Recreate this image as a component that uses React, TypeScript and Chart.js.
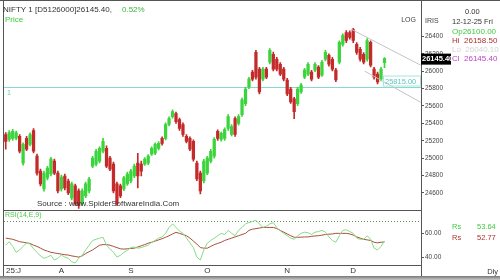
import { useEffect, useRef } from 'react';
import { Chart, registerables } from 'chart.js';

Chart.register(...registerables);

const FONT = '"Liberation Sans", Arial, sans-serif';

const opens = [25272, 25215, 25227, 25230, 25250, 24942, 25227, 25159, 25318, 25022, 24851, 24646, 24772, 24817, 24965, 24828, 24646, 24794, 24737, 24543, 24680, 24623, 24475, 24566, 24623, 24908, 24931, 24965, 25079, 25113, 25000, 24931, 24703, 24680, 24646, 24703, 24737, 24794, 24942, 24931, 24931, 24942, 25045, 25056, 25113, 25227, 25227, 25387, 25478, 25512, 25444, 25387, 25250, 25227, 25193, 24942, 24828, 24737, 24828, 24965, 25022, 25307, 25215, 25227, 25341, 25272, 25455, 25398, 25500, 25626, 25819, 25990, 26218, 26024, 25910, 26024, 26104, 26195, 26138, 26081, 26024, 25899, 25796, 25682, 25626, 25762, 25933, 25967, 25990, 26013, 26047, 25956, 26138, 26184, 26138, 26013, 26104, 26309, 26446, 26446, 26480, 26309, 26252, 26195, 26138, 26332, 26024, 25967, 25910, 26100];
const highs = [25295, 25318, 25330, 25310, 25270, 25175, 25250, 25290, 25340, 25045, 24875, 24850, 24905, 25010, 24990, 24850, 24805, 24815, 24760, 24725, 24700, 24645, 24645, 24725, 24780, 25020, 25100, 25130, 25227, 25140, 25020, 24955, 24725, 24700, 24790, 24840, 24870, 24930, 25056, 24965, 25005, 25040, 25130, 25175, 25190, 25245, 25405, 25475, 25557, 25530, 25460, 25405, 25270, 25245, 25210, 24965, 24850, 24985, 25020, 25100, 25235, 25325, 25300, 25350, 25500, 25385, 25475, 25500, 25690, 25815, 25930, 26010, 26240, 26045, 26045, 26045, 26260, 26220, 26160, 26100, 26045, 25920, 25815, 25700, 25815, 25860, 26035, 26100, 26010, 26100, 26065, 26125, 26240, 26200, 26160, 26035, 26350, 26430, 26468, 26465, 26495, 26330, 26275, 26215, 26375, 26350, 26045, 25990, 26045, 26158.5];
const lows = [25102, 25193, 25205, 25210, 25060, 24920, 25085, 25140, 25060, 24805, 24680, 24620, 24750, 24795, 24810, 24600, 24620, 24635, 24580, 24520, 24455, 24420, 24455, 24545, 24600, 24890, 24910, 24945, 25060, 24890, 24855, 24600, 24455, 24545, 24625, 24685, 24715, 24775, 24657, 24794, 24915, 24925, 25030, 25040, 25095, 25150, 25210, 25370, 25460, 25400, 25320, 25250, 25175, 25085, 24965, 24740, 24589, 24715, 24810, 24945, 25000, 25205, 25195, 25205, 25320, 25255, 25250, 25380, 25480, 25605, 25800, 25890, 25910, 25740, 25890, 25915, 26085, 26005, 26005, 25950, 25890, 25720, 25630, 25455, 25605, 25745, 25915, 25950, 25890, 25995, 25915, 25940, 26120, 26060, 26005, 25880, 26085, 26290, 26330, 26370, 26330, 26195, 26115, 26085, 26115, 26050, 25910, 25855, 25890, 26040.1];
const closes = [25193, 25295, 25307, 25290, 25079, 25159, 25102, 25272, 25079, 24828, 24703, 24828, 24885, 24988, 24828, 24623, 24783, 24657, 24600, 24703, 24475, 24452, 24623, 24703, 24760, 25000, 25079, 25113, 25193, 24908, 24874, 24623, 24475, 24566, 24772, 24817, 24851, 24908, 24794, 24851, 24988, 25022, 25113, 25159, 25170, 25170, 25387, 25455, 25535, 25421, 25341, 25272, 25193, 25102, 24988, 24760, 24623, 24965, 25000, 25079, 25215, 25227, 25284, 25329, 25478, 25364, 25272, 25478, 25671, 25796, 25910, 25910, 25933, 25762, 26024, 25933, 26241, 26024, 26024, 25967, 25910, 25739, 25648, 25535, 25796, 25842, 26013, 26081, 25910, 26081, 25933, 26104, 26218, 26081, 26024, 25899, 26332, 26411, 26354, 26389, 26354, 26218, 26138, 26104, 26354, 26070, 25933, 25876, 26024, 26145.4];

const rsi = [50, 53, 49, 44, 46, 49, 52, 51, 47, 44, 41, 39, 40, 41.5, 37.5, 39, 41.7, 40, 39, 36, 35, 39, 41.5, 46, 50, 54, 55, 56, 56.7, 50, 47, 44, 40, 41.5, 44, 45.8, 48, 48.5, 47.5, 48, 49, 50, 52.5, 54, 56, 57, 60, 65, 68, 65, 62, 60, 56, 52, 48, 40, 37.5, 46, 51.7, 54, 56, 58, 60, 59, 62.5, 60, 58, 62.5, 65, 68, 69, 70, 71, 68, 65, 66, 68, 69, 65, 62, 60, 58, 56, 55, 58, 60, 61, 60.5, 59, 61, 61.5, 62.5, 61, 57, 54, 52.5, 58, 62.5, 63, 61.5, 60, 56, 55, 55, 58, 55, 47.5, 46, 49, 53.64];
const rsiSignal = [56, 55.5, 55, 54, 53, 52.5, 52, 51.5, 50, 49, 47.5, 46, 45, 44, 43.5, 43, 42.5, 42, 41.7, 41, 40.5, 40, 41, 43, 44.5, 46, 48, 50, 50.5, 50.5, 50, 49, 48, 47, 46.7, 47, 47.3, 47.5, 48.5, 49.5, 50.5, 51.7, 52.5, 53.5, 54.5, 55.5, 56.7, 58, 59.5, 60.8, 60, 59, 58, 56, 53.5, 51, 48, 47.5, 47.5, 49, 50.5, 51.5, 52.5, 54, 55, 56, 57, 58, 59, 60, 62.5, 63.5, 64, 64.5, 65, 65, 65, 65, 64, 62.5, 61, 59.5, 58, 56.7, 56.7, 56.8, 57, 57, 57.5, 57.8, 58, 58.5, 59, 59.3, 59.5, 60, 60, 60, 60, 59.5, 58.5, 57, 56, 55, 54.5, 54, 52.5, 52, 52.5, 52.77];

const monthLabels = ['25:J', 'A', 'S', 'O', 'N', 'D'];
const monthIndex = [0, 16, 36, 58, 81, 100];
const priceTicks = [24600, 24800, 25000, 25200, 25400, 25600, 25800, 26000, 26200, 26400];
const rsiTicks = [40, 60];
const supportLevel = 25815;
const rsiUpper = 70;
const upperTrend = [{ x: 99.6, y: 26480 }, { x: 119.4, y: 26070 }];
const lowerTrend = [{ x: 103.3, y: 26001 }, { x: 119.4, y: 25643 }];

const GREEN = '#3cd43c';
const RED = '#c42a2a';

function txt(ctx: CanvasRenderingContext2D, s: string, x: number, y: number, color: string, size: number, align: CanvasTextAlign = 'left', bold = false) {
  ctx.font = `${bold ? 'bold ' : ''}${size}px ${FONT}`;
  ctx.fillStyle = color;
  ctx.textAlign = align;
  ctx.textBaseline = 'middle';
  ctx.fillText(s, x, y);
}

const decorPlugin = {
  id: 'decor',
  beforeDraw(chart: any) {
    const ctx = chart.ctx;
    ctx.save();
    ctx.fillStyle = '#fff';
    ctx.fillRect(0, 0, chart.width, chart.height);
    ctx.restore();
  },
  beforeDatasetsDraw(chart: any) {
    const { ctx, chartArea, scales } = chart;
    ctx.save();
    const ys = Math.round(scales.y.getPixelForValue(supportLevel)) + 0.5;
    ctx.strokeStyle = '#86d8d2';
    ctx.lineWidth = 1;
    ctx.beginPath();
    ctx.moveTo(chartArea.left, ys);
    ctx.lineTo(chartArea.right, ys);
    ctx.stroke();
    const yr = Math.round(scales.y2.getPixelForValue(rsiUpper)) + 0.5;
    ctx.setLineDash([1, 2]);
    ctx.strokeStyle = '#5f8f5f';
    ctx.beginPath();
    ctx.moveTo(chartArea.left, yr);
    ctx.lineTo(chartArea.right, yr);
    ctx.stroke();
    ctx.restore();
  },
  afterDraw(chart: any) {
    const { ctx, chartArea, scales } = chart;
    const W = chart.width;
    const L = chartArea.left - 0.5;
    const R = chartArea.right + 0.5;
    const sep = Math.round(scales.y.bottom) + 0.5;
    const bot = Math.round(scales.y2.bottom) + 0.5;
    ctx.save();
    // frame
    ctx.strokeStyle = '#555';
    ctx.lineWidth = 1;
    ctx.beginPath();
    ctx.moveTo(0, 0.5); ctx.lineTo(W, 0.5);
    ctx.moveTo(L, 0); ctx.lineTo(L, 276);
    ctx.moveTo(R, 0); ctx.lineTo(R, 276);
    ctx.moveTo(L, sep); ctx.lineTo(R, sep);
    ctx.moveTo(L, bot); ctx.lineTo(R, bot);
    ctx.stroke();
    const g = ctx.createLinearGradient(0, 276, 0, 280);
    g.addColorStop(0, '#777');
    g.addColorStop(1, '#c8c8c8');
    ctx.fillStyle = g;
    ctx.fillRect(0, 276, W, 4);

    // header
    txt(ctx, 'NIFTY 1 [D5126000]26145.40,', 3, 10, '#333', 8);
    txt(ctx, '0.52%', 122, 10, '#3cb43c', 8);
    txt(ctx, 'Price', 5, 20, '#3cc83c', 8);
    txt(ctx, 'LOG', 416, 20, '#444', 7, 'right');
    txt(ctx, 'IRIS', 425, 21, '#444', 7);

    // support label
    const ys = Math.round(scales.y.getPixelForValue(supportLevel)) + 0.5;
    txt(ctx, '1', 7, ys + 6, '#6cc8c0', 7);
    ctx.strokeStyle = '#a8e4e0';
    ctx.strokeRect(383.5, ys - 11.5, 37, 10);
    txt(ctx, '25815.00', 385, ys - 6, '#5cc4bc', 7.5);

    // source
    txt(ctx, 'Source : www.SpiderSoftwareIndia.Com', 37, 204, '#333', 8);
    txt(ctx, 'RSI(14,E,9)', 5, 215, '#4cc84c', 7);

    // x labels
    const xs = scales.x;
    monthLabels.forEach((m, k) => {
      const px = xs.getPixelForValue(monthIndex[k]);
      if (k === 0) txt(ctx, m, chartArea.left + 2, 271, '#333', 8, 'left');
      else txt(ctx, m, px, 271, '#333', 8, 'center');
    });
    txt(ctx, 'Dly', 498, 272, '#333', 7.5, 'right');

    // right panel
    txt(ctx, '0.00', 465, 12, '#333', 7.5);
    txt(ctx, '12-12-25 Fri', 452, 22, '#333', 7.5);
    txt(ctx, 'Op26100.00', 452, 32, '#40c840', 8);
    txt(ctx, 'Hi  26158.50', 452, 41, '#b03030', 8);
    txt(ctx, 'Lo  26040.10', 452, 50, '#d4d4d4', 8);
    txt(ctx, 'Cl  26145.40', 452, 59, '#c040c8', 8);

    // last price box
    const yl = scales.y.getPixelForValue(closes[closes.length - 1]);
    ctx.fillStyle = '#000';
    ctx.fillRect(chartArea.right, yl - 5, 30, 11);
    ctx.save();
    ctx.beginPath();
    ctx.rect(chartArea.right, yl - 6, 30, 13);
    ctx.clip();
    txt(ctx, '26145.40', chartArea.right + 1, yl + 0.5, '#fff', 7.5, 'left', true);
    ctx.restore();

    // RSI values
    txt(ctx, 'Rs', 452, 227, '#40c840', 7.5);
    txt(ctx, '53.64', 477, 227, '#40c840', 7.5);
    txt(ctx, 'Rs', 452, 238, '#b03030', 7.5);
    txt(ctx, '52.77', 477, 238, '#b03030', 7.5);
    ctx.restore();
  },
};

export default function App() {
  const ref = useRef<HTMLCanvasElement>(null);
  useEffect(() => {
    const canvas = ref.current!;
    const idx = opens.map((_, i) => i);
    const colors = idx.map((i) => (closes[i] >= opens[i] ? GREEN : RED));
    const chart = new Chart(canvas, {
      type: 'bar',
      data: {
        datasets: [
          {
            type: 'bar',
            data: idx.map((i) => ({ x: i, y: [lows[i], highs[i]] })) as any,
            backgroundColor: colors,
            barThickness: 1,
            grouped: false,
            yAxisID: 'y',
            order: 3,
          } as any,
          {
            type: 'bar',
            data: idx.map((i) => ({ x: i, y: [opens[i], closes[i]] })) as any,
            backgroundColor: colors,
            barThickness: 2.6,
            grouped: false,
            yAxisID: 'y',
            order: 2,
          } as any,
          {
            type: 'line',
            data: upperTrend as any,
            borderColor: '#c4c4c4',
            borderWidth: 1,
            pointRadius: 0,
            yAxisID: 'y',
            order: 1,
          },
          {
            type: 'line',
            data: lowerTrend as any,
            borderColor: '#c4c4c4',
            borderWidth: 1,
            pointRadius: 0,
            yAxisID: 'y',
            order: 1,
          },
          {
            type: 'line',
            data: idx.map((i) => ({ x: i, y: rsiSignal[i] })) as any,
            borderColor: '#a8503a',
            borderWidth: 1,
            pointRadius: 0,
            yAxisID: 'y2',
            order: 1,
          },
          {
            type: 'line',
            data: idx.map((i) => ({ x: i, y: rsi[i] })) as any,
            borderColor: '#86dc86',
            borderWidth: 1,
            pointRadius: 0,
            yAxisID: 'y2',
            order: 0,
          },
        ],
      },
      options: {
        responsive: false,
        animation: false,
        events: [],
        layout: { padding: { left: 4, top: 2, right: 0, bottom: 15 } },
        plugins: { legend: { display: false }, tooltip: { enabled: false } },
        scales: {
          x: { type: 'linear', display: false, min: -0.5, max: 119.5, offset: false },
          y: {
            type: 'linear',
            position: 'right',
            stack: 'pane',
            stackWeight: 207,
            min: 24407,
            max: 26764,
            offset: false,
            afterBuildTicks: (s: any) => { s.ticks = priceTicks.map((v) => ({ value: v })); },
            afterFit: (s: any) => { s.width = 79; },
            grid: { drawOnChartArea: false, drawTicks: true, tickLength: 3, color: '#555' },
            border: { display: false },
            ticks: { font: { family: FONT, size: 6.5 }, color: '#444', padding: 1, autoSkip: false, callback: (v: any) => String(v) },
          },
          y2: {
            type: 'linear',
            position: 'right',
            stack: 'pane',
            stackWeight: 56,
            min: 33.33,
            max: 80,
            offset: false,
            afterBuildTicks: (s: any) => { s.ticks = rsiTicks.map((v) => ({ value: v })); },
            afterFit: (s: any) => { s.width = 79; },
            grid: { drawOnChartArea: false, drawTicks: true, tickLength: 3, color: '#555' },
            border: { display: false },
            ticks: { font: { family: FONT, size: 6.5 }, color: '#444', padding: 1, autoSkip: false, callback: (v: any) => Number(v).toFixed(2) },
          },
        } as any,
      },
      plugins: [decorPlugin as any],
    });
    return () => chart.destroy();
  }, []);
  return (
    <div style={{ position: 'fixed', left: 0, top: 0, width: 500, height: 280, background: '#fff' }}>
      <canvas ref={ref} width={500} height={280} style={{ display: 'block', width: 500, height: 280 }} />
    </div>
  );
}
